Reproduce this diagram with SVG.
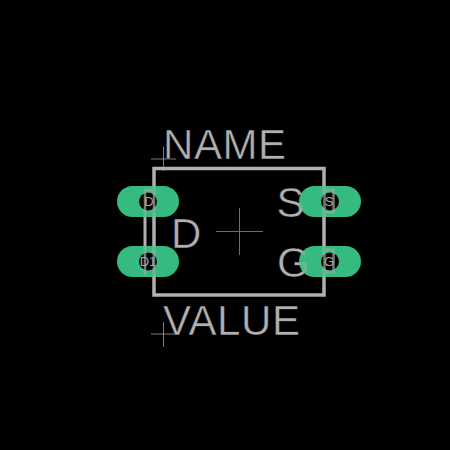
<svg xmlns="http://www.w3.org/2000/svg" width="450" height="450" viewBox="0 0 450 450">
<defs>
<style>
.t{font-family:"Liberation Sans",Arial,sans-serif;fill:#b0b0b0}
.n{font-family:"Liberation Sans",sans-serif;font-size:13px;text-anchor:middle;fill:#a9a9a9}
.o{stroke:#b0b0b0;fill:none}
.c{stroke:#a9a9a9;stroke-width:1;fill:none;opacity:.75}
.p{fill:#35ba80}
.h{fill:#000}
</style>
<g id="art">
<path class="o" stroke-width="3.500" d="M154 168.500H324V295H154Z"/>
<path class="o" stroke-width="3" d="M145 275V190H154"/>
<path class="o" stroke-width="3" d="M324.500 190H333.500V212H324.500M324.500 250H333.500V272H324.500"/>
<text class="t" x="171" y="248" font-size="42">D</text>
<text class="t" x="276.500" y="217" font-size="42">S</text>
<text class="t" x="277" y="276.500" font-size="42">G</text>
</g>
<clipPath id="pads">
<rect x="117" y="186" width="62" height="31" rx="15.500"/>
<rect x="117" y="246" width="62" height="31" rx="15.500"/>
<rect x="299" y="186" width="62" height="31" rx="15.500"/>
<rect x="299" y="246" width="62" height="31" rx="15.500"/>
</clipPath>
</defs>
<rect width="450" height="450" fill="#000"/>
<g id="cross-center"><path d="M216 231.500H263M239.500 208V255" stroke="#6f7a2a" stroke-width="1" fill="none"/></g>
<g id="cross-name"><path class="c" d="M151 159H176M163.500 147V171"/></g>
<g id="cross-value"><path class="c" d="M151 334H176M163.500 322V347"/></g>
<g id="body" stroke="#000" stroke-width=".5"><use href="#art"/></g>
<g id="label-name" stroke="#000" stroke-width=".5"><text class="t" x="163" y="159" font-size="42" textLength="123">NAME</text></g>
<g id="label-value" stroke="#000" stroke-width=".5"><text class="t" x="163" y="335" font-size="42" textLength="137">VALUE</text></g>
<g id="pad-d1"><rect class="p" x="117" y="186" width="62" height="31" rx="15.500"/></g>
<g id="pad-d2"><rect class="p" x="117" y="246" width="62" height="31" rx="15.500"/></g>
<g id="pad-s"><rect class="p" x="299" y="186" width="62" height="31" rx="15.500"/></g>
<g id="pad-g"><rect class="p" x="299" y="246" width="62" height="31" rx="15.500"/></g>
<g id="show-through" clip-path="url(#pads)" opacity=".45"><use href="#art"/></g>
<g id="holes">
<circle class="h" cx="148" cy="201.500" r="9"/><circle class="h" cx="148" cy="261.500" r="9"/><circle class="h" cx="330" cy="201.500" r="9"/><circle class="h" cx="330" cy="261.500" r="9"/>
<path d="M145 192.500V210.500M154 194V209M145 252.500V270.500M154 254V269M324.500 194V209M324.500 254V269M333.500 193V210M333.500 253V270" stroke="#a9a9a9" stroke-width="2.500" opacity=".7"/>
<text class="n" x="149" y="206">D</text><text class="n" x="148" y="266">D1</text><text class="n" x="329" y="206">S</text><text class="n" x="329" y="266">G</text>
</g>
</svg>
